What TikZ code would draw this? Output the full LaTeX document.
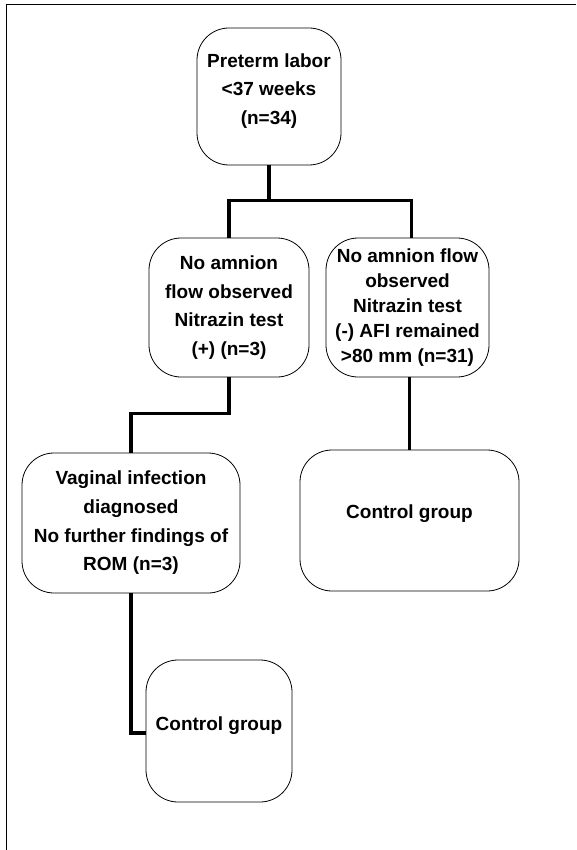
\documentclass[tikz,border=0pt]{standalone}
\usepackage{fontspec}
\setmainfont{Liberation Sans}
\usepackage{tikz}
\usetikzlibrary{positioning}

\begin{document}
\begin{tikzpicture} [x=1pt, y=-1pt, font=\bfseries\fontsize{19}{28.7}\selectfont,
    box/.style = {draw, line width=0.8pt, rounded corners=32pt, align=center, inner sep=0pt},
    edge/.style = {line width=3.2pt, line join=miter}]
	\useasboundingbox (0,0) rectangle (576,850);
	\draw[line width=1.3pt] (576,4.5) -- (6.3,4.5) -- (6.3,850);
	\node[box, minimum width=144pt, minimum height=137pt, text depth=15pt] (P) at (269,96.5) {Preterm labor\\<37 weeks\\(n=34)};
	\node[box, minimum width=160pt, minimum height=139pt] (N) at (229,307.5) {No amnion\\flow observed\\Nitrazin test\\(+) (n=3)};
	\node[box, minimum width=163pt, minimum height=139pt, font=\bfseries\fontsize{19}{25.2}\selectfont] (A) at (407.5,307.5) {No amnion flow\\observed\\Nitrazin test\\(-) AFI remained\\>80 mm (n=31)};
	\node[box, minimum width=218pt, minimum height=140pt] (V) at (131,523) {Vaginal infection\\diagnosed\\No further findings of\\ROM (n=3)};
	\node[box, minimum width=219pt, minimum height=141pt, text depth=18pt] (C) at (409.5,520.5) {Control group};
	\node[box, minimum width=146pt, minimum height=142pt, text depth=14pt] (G) at (219,731) {Control group};
	% branches
	\draw[edge] (P.south) -- ++(0,35) coordinate (fork);
	\draw[edge] (fork) -| (N.north);
	\draw[edge] (fork) -| ([xshift=4pt]A.north);
	\draw[edge] (N.south) -- ++(0,36) -| (V.north);
	\draw[edge] ([xshift=2pt]A.south) -- ([xshift=2pt]A.south |- C.north);
	\draw[edge] (V.south) |- ([yshift=-2pt]G.west);
\end{tikzpicture}
\end{document}
